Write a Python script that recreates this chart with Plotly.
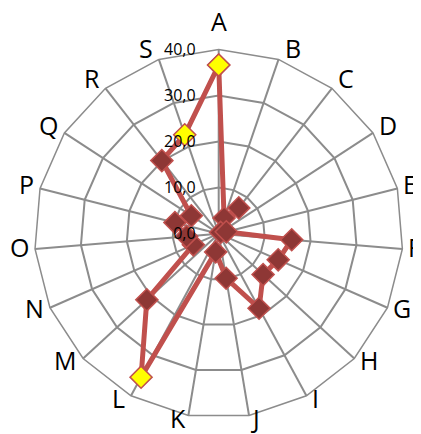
import math
import plotly.graph_objects as go

categories = ["A", "B", "C", "D", "E", "F", "G", "H", "I", "J",
              "K", "L", "M", "N", "O", "P", "Q", "R", "S"]
values = [36.6, 3.6, 7.1, 0.5, 1.7, 15.9, 14.1, 13.1, 18.4, 9.8,
          4.0, 35.4, 21.2, 6.0, 7.0, 9.8, 7.1, 20.1, 22.7]
highlight = ["A", "L", "S"]
radial_ticks = [0, 10, 20, 30, 40]

fill_colors = ["#FFFF00" if c in highlight else "#8E3735" for c in categories]

theta = categories + categories[:1]
r = values + values[:1]
colors = fill_colors + fill_colors[:1]

W, H = 421, 434
cx, cy, R = 210.7, 225.7, 184.3

fig = go.Figure()
fig.add_trace(go.Scatterpolar(
    r=r, theta=theta, mode="lines+markers",
    line=dict(color="#C0504D", width=5),
    marker=dict(symbol="diamond", size=17, color=colors,
                line=dict(color="#C0504D", width=1.5)),
    showlegend=False,
))

# Category labels placed just outside each spoke end (spreadsheet-style placement)
annotations = []
n = len(categories)
for i, name in enumerate(categories):
    ang = math.radians(i * 360.0 / n)
    s, c = math.sin(ang), math.cos(ang)
    vx = cx + R * s
    vy = cy - R * c
    gap = 0 if abs(s) < 0.2 else 4
    if s > 0.1:
        xa, xs = "left", gap
    elif s < -0.1:
        xa, xs = "right", -gap
    else:
        xa, xs = "center", 0
    dy = -10 * c if c > 0 else -5 * c
    if abs(s) < 0.05 and c > 0:
        dy -= 16  # moved clear of the radial tick labels
    annotations.append(dict(
        text=name, x=vx / W, y=1 - vy / H, xref="paper", yref="paper",
        xanchor=xa, yanchor="middle", xshift=xs, yshift=-dy + 2,
        showarrow=False,
        font=dict(size=25, color="black", family="Open Sans"),
    ))

fig.update_layout(
    width=W, height=H,
    margin=dict(l=0, r=0, t=0, b=0),
    paper_bgcolor="white",
    separators=",.",
    font=dict(family="Open Sans", color="black"),
    annotations=annotations,
    polar=dict(
        domain=dict(x=[(cx - R) / W, (cx + R) / W],
                    y=[1 - (cy + R) / H, 1 - (cy - R) / H]),
        bgcolor="white",
        gridshape="linear",
        angularaxis=dict(
            direction="clockwise", rotation=90,
            categoryorder="array", categoryarray=categories,
            linecolor="#8C8C8C", linewidth=1.5,
            gridcolor="#8C8C8C", gridwidth=1.5,
            showline=True, ticks="", showticklabels=False,
        ),
        radialaxis=dict(
            range=[0, 40], angle=90, side="counterclockwise",
            tickvals=radial_ticks, tickformat=".1f", tickangle=90,
            showline=False, ticks="outside", ticklen=17,
            tickcolor="rgba(0,0,0,0)",
            gridcolor="#8C8C8C", gridwidth=1.5,
            tickfont=dict(size=16, color="black", family="Open Sans"),
        ),
    ),
)

fig.write_html("out.html")
